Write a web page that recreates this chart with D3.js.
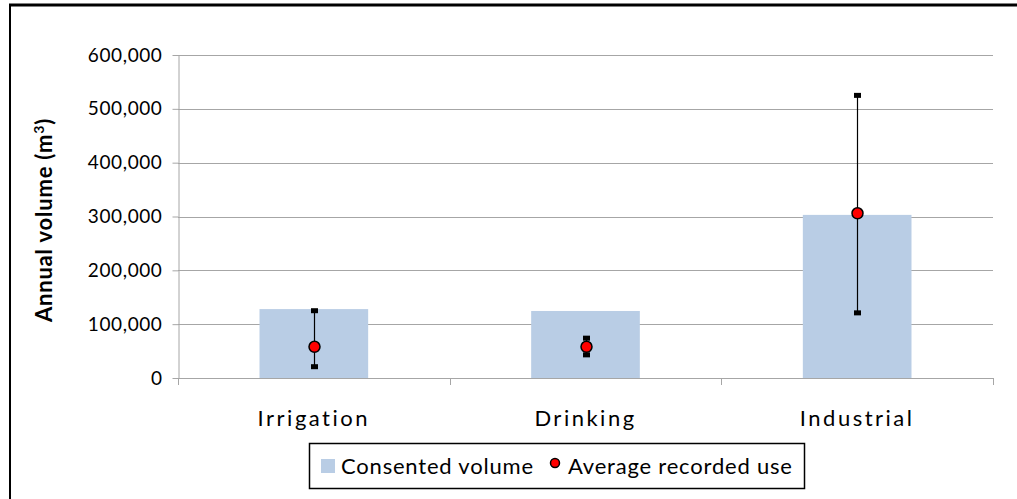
<!DOCTYPE html>
<meta charset="utf-8">
<html>
<head>
<script src="https://d3js.org/d3.v7.min.js"></script>
<style>
  body { margin: 0; background: #fff; }
  text { font-family: Lato, "Open Sans", sans-serif; fill: #000; }
</style>
</head>
<body>
<script>
// chart data
var categories = ["Irrigation", "Drinking", "Industrial"];
var consented = [128000, 124500, 303000];
var avgUse = [58000, 58000, 306000];
var errLow = [21000, 43000, 121000];
var errHigh = [125000, 74000, 525000];
var yTicks = [0, 100000, 200000, 300000, 400000, 500000, 600000];
var legendLabels = ["Consented volume", "Average recorded use"];

var W = 1017, H = 499,
    margin = {left: 178, right: 24, top: 55, bottom: 121},
    width = W - margin.left - margin.right,
    height = H - margin.top - margin.bottom;

var svg = d3.select("body").append("svg")
    .attr("width", W)
    .attr("height", H);

// outer frame (top and left edges visible)
svg.append("line").attr("x1", 9).attr("x2", W).attr("y1", 5).attr("y2", 5)
    .attr("stroke", "#000").attr("stroke-width", 3);
svg.append("line").attr("x1", 10).attr("x2", 10).attr("y1", 4).attr("y2", H)
    .attr("stroke", "#000").attr("stroke-width", 2);

var g = svg.append("g")
    .attr("transform", "translate(" + margin.left + "," + margin.top + ")");

var x = d3.scaleBand().domain(categories).range([0, width]).paddingInner(0.6).paddingOuter(0.3);
var xOuter = d3.scaleBand().domain(categories).range([0, width]);
var y = d3.scaleLinear().domain([0, 600000]).range([height, 0]);

// gridlines
g.selectAll(".grid").data(yTicks).enter().append("line")
    .attr("x1", 0).attr("x2", width)
    .attr("y1", function(d){ return Math.round(y(d)) + 0.5; })
    .attr("y2", function(d){ return Math.round(y(d)) + 0.5; })
    .attr("stroke", "#a6a6a6").attr("stroke-width", 1);

// y axis
var yAxis = g.append("g")
    .attr("transform", "translate(0.5,0)")
    .call(d3.axisLeft(y).tickValues(yTicks).tickSize(6).tickSizeOuter(0)
        .tickFormat(d3.format(",")));
yAxis.select(".domain").attr("stroke", "#a6a6a6");
yAxis.selectAll(".tick line").attr("stroke", "#a6a6a6");
yAxis.selectAll("text").attr("font-size", 19).attr("x", -16)
    .attr("letter-spacing", 0.6)
    .style("font-family", "Lato, sans-serif").attr("fill", "#000");

// x axis ticks between categories
var boundaries = [0].concat(categories.map(function(c){ return xOuter(c) + xOuter.bandwidth(); }));
g.selectAll(".xtick").data(boundaries).enter().append("line")
    .attr("x1", function(d){ return Math.round(d) + 0.5; })
    .attr("x2", function(d){ return Math.round(d) + 0.5; })
    .attr("y1", height).attr("y2", height + 7)
    .attr("stroke", "#a6a6a6");

g.selectAll(".xlab").data(categories).enter().append("text")
    .attr("x", function(d){ return xOuter(d) + xOuter.bandwidth() / 2; })
    .attr("y", height + 48)
    .attr("text-anchor", "middle")
    .attr("font-size", 22)
    .attr("letter-spacing", 2.5)
    .text(function(d){ return d; });

// bars
g.selectAll(".bar").data(categories).enter().append("rect")
    .attr("x", function(d){ return x(d); })
    .attr("width", x.bandwidth())
    .attr("y", function(d, i){ return y(consented[i]); })
    .attr("height", function(d, i){ return height - y(consented[i]); })
    .attr("fill", "#b9cde5");

// error bars
var cx = function(d){ return Math.round(x(d) + x.bandwidth() / 2) + 0.5; };
g.selectAll(".err").data(categories).enter().append("line")
    .attr("x1", cx).attr("x2", cx)
    .attr("y1", function(d, i){ return y(errLow[i]); })
    .attr("y2", function(d, i){ return y(errHigh[i]); })
    .attr("stroke", "#000").attr("stroke-width", 1.2);
[errLow, errHigh].forEach(function(arr){
    g.selectAll(null).data(categories).enter().append("rect")
        .attr("x", function(d){ return cx(d) - 3.5; })
        .attr("y", function(d, i){ return y(arr[i]) - 2.5; })
        .attr("width", 7).attr("height", 5)
        .attr("fill", "#000");
});

// mean points
g.selectAll(".pt").data(categories).enter().append("circle")
    .attr("cx", cx)
    .attr("cy", function(d, i){ return y(avgUse[i]); })
    .attr("r", 5.5)
    .attr("fill", "#ff0000")
    .attr("stroke", "#000").attr("stroke-width", 1.5);

// y axis title
svg.append("text")
    .attr("transform", "translate(52,220) rotate(-90)")
    .attr("text-anchor", "middle")
    .attr("font-size", 22)
    .attr("font-weight", "bold")
    .attr("letter-spacing", 0.8)
    .html("Annual volume (m<tspan baseline-shift='super' font-size='14'>3</tspan>)");

// legend
var lg = svg.append("g");
lg.append("rect").attr("x", 309.5).attr("y", 443.5).attr("width", 495).attr("height", 45)
    .attr("fill", "#fff").attr("stroke", "#000").attr("stroke-width", 1.5);
lg.append("rect").attr("x", 321).attr("y", 459).attr("width", 14).attr("height", 14)
    .attr("fill", "#b9cde5");
lg.append("text").attr("x", 341).attr("y", 474).attr("font-size", 22)
    .attr("letter-spacing", 0.8).text(legendLabels[0]);
lg.append("circle").attr("cx", 555).attr("cy", 463).attr("r", 4.5)
    .attr("fill", "#ff0000").attr("stroke", "#000").attr("stroke-width", 1.5);
lg.append("text").attr("x", 568).attr("y", 474).attr("font-size", 22)
    .attr("letter-spacing", 0.8).text(legendLabels[1]);
</script>
</body>
</html>
